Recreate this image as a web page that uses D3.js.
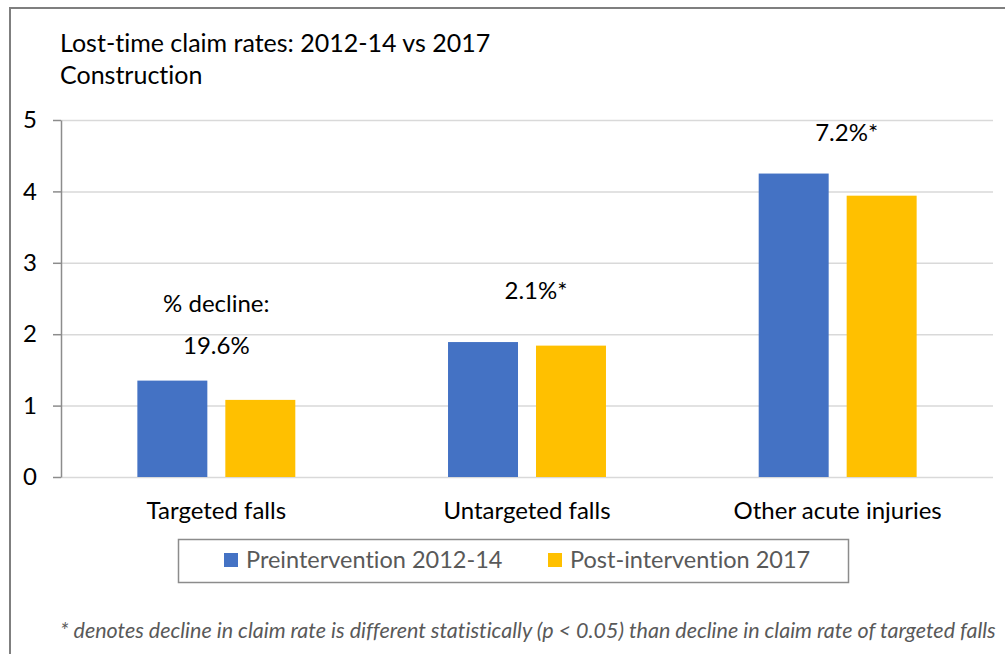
<!DOCTYPE html>
<html>
<head>
<meta charset="utf-8">
<script src="https://cdn.jsdelivr.net/npm/d3@7"></script>
<style>
  body { margin: 0; background: #fff; }
  svg text { font-family: Lato, "Open Sans", sans-serif; font-variant-ligatures: none; }
</style>
</head>
<body>
<div id="my_dataviz"></div>
<script>
// chart data
const categories = ["Targeted falls", "Untargeted falls", "Other acute injuries"];
const seriesNames = ["Preintervention 2012-14", "Post-intervention 2017"];
const preValues = [1.35, 1.89, 4.25];
const postValues = [1.08, 1.84, 3.94];
const yTicks = [0, 1, 2, 3, 4, 5];
const declineLabels = ["19.6%", "2.1%*", "7.2%*"];
const declineLabelY = [1.72, 2.5, 4.7];

const width = 1005, height = 654;
const margin = { top: 120, right: 12, bottom: 177, left: 61 };

const svg = d3.select("#my_dataviz")
  .append("svg")
  .attr("width", width)
  .attr("height", height);

// outer frame (only top and left edges show in the picture)
svg.append("path")
  .attr("d", `M10,${height} V8 H${width}`)
  .attr("fill", "none")
  .attr("stroke", "#7f7f7f")
  .attr("stroke-width", 2);

// title
svg.append("text")
  .attr("x", 60).attr("y", 52)
  .style("font-size", "25px")
  .style("fill", "#000")
  .text("Lost-time claim rates: 2012-14 vs 2017");
svg.append("text")
  .attr("x", 60).attr("y", 84)
  .style("font-size", "25px")
  .style("fill", "#000")
  .text("Construction");

// scales
const x0 = d3.scaleBand()
  .domain(categories)
  .range([margin.left, width - margin.right])
  .padding(0);

const x1 = d3.scaleBand()
  .domain(seriesNames)
  .range([0, x0.bandwidth()])
  .paddingInner(0.2045)
  .paddingOuter(0.868);

const y = d3.scaleLinear()
  .domain([0, 5])
  .range([height - margin.bottom, margin.top]);

const color = d3.scaleOrdinal()
  .domain(seriesNames)
  .range(["#4472c4", "#ffc000"]);

// gridlines
svg.append("g")
  .selectAll("line")
  .data(yTicks)
  .join("line")
  .attr("x1", margin.left)
  .attr("x2", width - margin.right)
  .attr("y1", (d) => y(d) + 0.5)
  .attr("y2", (d) => y(d) + 0.5)
  .attr("stroke", "#d9d9d9")
  .attr("stroke-width", 1.5);

// y axis
const yAxis = svg.append("g")
  .attr("transform", `translate(${margin.left},0)`)
  .call(d3.axisLeft(y).tickValues(yTicks).tickFormat(d3.format("d"))
    .tickSize(8).tickSizeOuter(0).tickPadding(16));
yAxis.attr("font-family", null).attr("font-size", null);
yAxis.select(".domain").attr("stroke", "#8c8c8c").attr("stroke-width", 1.5);
yAxis.selectAll(".tick line").attr("stroke", "#8c8c8c").attr("stroke-width", 1.5);
yAxis.selectAll(".tick text")
  .style("font-size", "24px")
  .style("fill", "#000");

// bars
const rows = categories.map((c, i) => ({
  category: c,
  values: [
    { name: seriesNames[0], value: preValues[i] },
    { name: seriesNames[1], value: postValues[i] }
  ]
}));

const groups = svg.append("g")
  .selectAll("g")
  .data(rows)
  .join("g")
  .attr("transform", (d) => `translate(${x0(d.category)},0)`);

groups.selectAll("rect")
  .data((d) => d.values)
  .join("rect")
  .attr("x", (d) => x1(d.name))
  .attr("y", (d) => y(d.value))
  .attr("width", x1.bandwidth())
  .attr("height", (d) => y(0) - y(d.value))
  .attr("fill", (d) => color(d.name));

// category labels
svg.append("g")
  .selectAll("text")
  .data(categories)
  .join("text")
  .attr("x", (d) => x0(d) + x0.bandwidth() / 2)
  .attr("y", 519)
  .attr("text-anchor", "middle")
  .style("font-size", "24px")
  .style("fill", "#000")
  .text((d) => d);

// % decline annotations
svg.append("text")
  .attr("x", x0(categories[0]) + x0.bandwidth() / 2)
  .attr("y", y(2.315))
  .attr("text-anchor", "middle")
  .style("font-size", "24px")
  .style("fill", "#000")
  .text("% decline:");

svg.append("g")
  .selectAll("text")
  .data(declineLabels)
  .join("text")
  .attr("x", (d, i) => x0(categories[i]) + x0.bandwidth() / 2 + (d.endsWith("*") ? 9 : 0))
  .attr("y", (d, i) => y(declineLabelY[i]))
  .attr("text-anchor", "middle")
  .style("font-size", "24px")
  .style("fill", "#000")
  .text((d) => d);

// legend
const legend = svg.append("g");
legend.append("rect")
  .attr("x", 178.5).attr("y", 539.5)
  .attr("width", 670).attr("height", 43)
  .attr("fill", "#fff")
  .attr("stroke", "#8c8c8c")
  .attr("stroke-width", 1.5);

const legendX = [224, 548];
const items = legend.selectAll("g.item")
  .data(seriesNames)
  .join("g")
  .attr("class", "item")
  .attr("transform", (d, i) => `translate(${legendX[i]},553)`);
items.append("rect")
  .attr("width", 14).attr("height", 14)
  .attr("fill", (d) => color(d));
items.append("text")
  .attr("x", 22).attr("y", 15)
  .style("font-size", "23.5px")
  .style("fill", "#595959")
  .text((d) => d);

// footnote
svg.append("text")
  .attr("x", 60).attr("y", 638)
  .style("font-size", "21.5px")
  .style("font-style", "italic")
  .style("fill", "#595959")
  .text("* denotes decline in claim rate is different statistically (p < 0.05) than decline in claim rate of targeted falls");
</script>
</body>
</html>
